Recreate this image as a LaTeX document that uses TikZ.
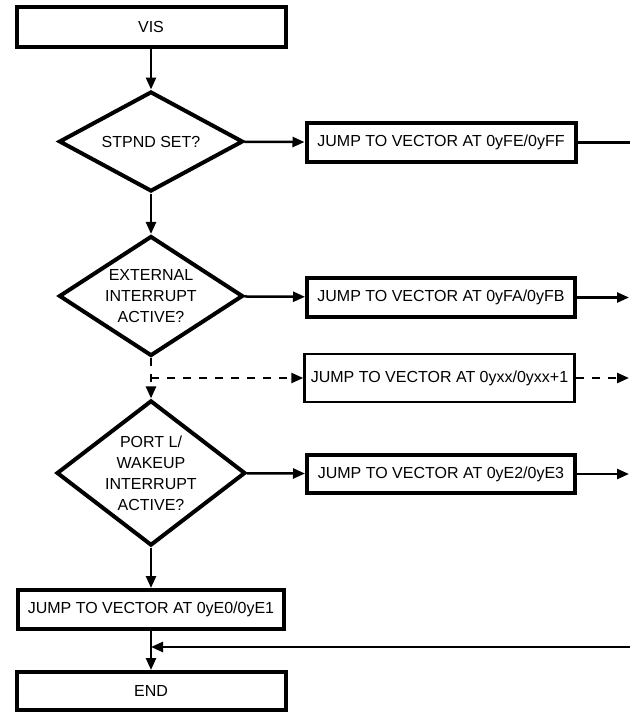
\documentclass[tikz,border=0pt]{standalone}
\usepackage{fontspec}
\setmainfont{Liberation Sans}
\usetikzlibrary{shapes.geometric,arrows.meta}
\tikzset{
  lbl/.style={font=\fontsize{16}{21}\selectfont},
  thickbox/.style={draw, line width=4pt, rectangle, inner sep=0pt, align=center, lbl},
  thinbox/.style={draw, line width=2.5pt, rectangle, inner sep=0pt, align=center, lbl},
  decision/.style={draw, line width=4pt, diamond, inner sep=0pt, minimum width=184pt, align=center, lbl},
  conn/.style={line width=2.5pt},
  arr/.style={conn, -{Triangle[length=12pt,width=10pt]}},
  dashconn/.style={arr, dash pattern=on 8pt off 8pt},
}
\begin{document}
\begin{tikzpicture}[x=1pt,y=-1pt]
\useasboundingbox (0,0) rectangle (630,715);
\fill[white] (0,0) rectangle (630,715);

\node[thickbox, minimum width=269pt, minimum height=40pt] (vis) at (151,27) {VIS};
\node[decision, aspect=1.84, minimum height=100pt] (d1) at (151,141.5) {STPND SET?};
\node[thickbox, minimum width=269pt, minimum height=39pt] (b1) at (441,142.5) {JUMP TO VECTOR AT 0yFE/0yFF};
\node[decision, aspect=1.53, minimum height=120pt] (d2) at (151,296) {EXTERNAL\\INTERRUPT\\ACTIVE?};
\node[thickbox, minimum width=268pt, minimum height=39pt] (b2) at (441,297.5) {JUMP TO VECTOR AT 0yFA/0yFB};
\node[thinbox, minimum width=270pt, minimum height=48pt] (b3) at (439.5,378) {JUMP TO VECTOR AT 0yxx/0yxx+1};
\node[decision, aspect=1.3, minimum height=142pt] (d3) at (151,473) {PORT L/\\WAKEUP\\INTERRUPT\\ACTIVE?};
\node[thickbox, minimum width=268pt, minimum height=38pt] (b4) at (441,474) {JUMP TO VECTOR AT 0yE2/0yE3};
\node[thickbox, minimum width=266pt, minimum height=39pt] (b5) at (151,609.5) {JUMP TO VECTOR AT 0yE0/0yE1};
\node[thickbox, minimum width=269pt, minimum height=38pt] (endn) at (151,691) {END};

\coordinate (r1) at (630,142.5);
\coordinate (r2) at (629,297.5);
\coordinate (j) at (151,378);
\coordinate (r3) at (629,378);
\coordinate (r4) at (629,474);
\coordinate (r5) at (630,647);
\coordinate (m) at (151,647);

\draw[arr] (vis) -- (d1);
\draw[arr] (d1) -- (b1);
\draw[conn] (b1) -- (r1);
\draw[arr] (d1) -- (d2);
\draw[arr] (d2) -- (b2);
\draw[arr] (b2) -- (r2);
\draw[dashconn] (d2) -- (d3);
\draw[dashconn] (j) -- (b3);
\draw[dashconn] (b3) -- (r3);
\draw[arr] (d3) -- (b4);
\draw[arr] (b4) -- (r4);
\draw[arr] (d3) -- (b5);
\draw[arr] (b5) -- (endn);
\draw[arr] (r5) -- (m);
\end{tikzpicture}
\end{document}
